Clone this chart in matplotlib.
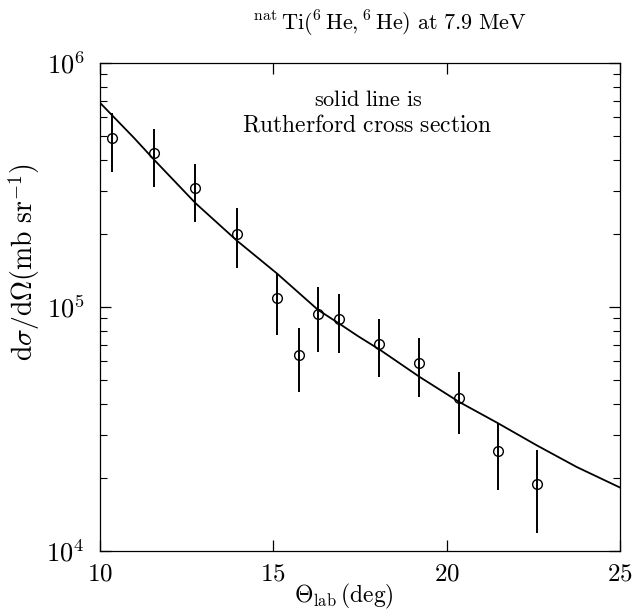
import matplotlib
matplotlib.use("Agg")
import matplotlib.pyplot as plt
from matplotlib.ticker import LogLocator, NullFormatter, FixedLocator

plt.rcParams["mathtext.fontset"] = "cm"
plt.rcParams["font.family"] = "serif"
plt.rcParams["font.serif"] = ["DejaVu Serif"]

# measured points
theta = [10.35, 11.57, 12.75, 13.94, 15.10, 15.75, 16.28, 16.90, 18.06, 19.21, 20.35, 21.48, 22.60]
xsec = [4.94e5, 4.27e5, 3.06e5, 1.99e5, 1.09e5, 6.38e4, 9.4e4, 8.9e4, 7.08e4, 5.88e4, 4.25e4, 2.58e4, 1.88e4]
err_hi = [6.24e5, 5.35e5, 3.85e5, 2.54e5, 1.38e5, 8.19e4, 1.21e5, 1.13e5, 8.9e4, 7.45e4, 5.43e4, 3.36e4, 2.59e4]
err_lo = [3.57e5, 3.11e5, 2.24e5, 1.45e5, 7.7e4, 4.5e4, 6.56e4, 6.5e4, 5.15e4, 4.29e4, 3.03e4, 1.77e4, 1.18e4]

# Rutherford curve
ruth_theta = [10.0, 11.0, 11.57, 12.76, 13.95, 15.11, 16.29, 16.9, 17.44, 18.08, 19.21, 20.35, 21.48, 22.60, 23.75, 25.0]
ruth_xsec = [6.87e5, 4.9e5, 4.0e5, 2.66e5, 1.87e5, 1.37e5, 9.73e4, 8.55e4, 7.6e4, 6.67e4, 5.18e4, 4.09e4, 3.34e4, 2.71e4, 2.21e4, 1.82e4]

fig = plt.figure(figsize=(6.38, 6.12), dpi=100)
ax = fig.add_axes([100 / 638, 1 - 551 / 612, 520 / 638, 488 / 612])

ax.plot(ruth_theta, ruth_xsec, color="black", lw=1.3)
yerr = [[v - lo for v, lo in zip(xsec, err_lo)], [hi - v for v, hi in zip(xsec, err_hi)]]
ax.errorbar(theta, xsec, yerr=yerr, fmt="o", mfc="none", mec="black", ms=7, mew=1.0,
            ecolor="black", elinewidth=1.4, capsize=0)

ax.set_yscale("log")
ax.set_xlim(10, 25)
ax.set_ylim(1e4, 1e6)

ax.xaxis.set_major_locator(FixedLocator([10, 15, 20, 25]))
ax.set_xticklabels([r"$\mathrm{10}$", r"$\mathrm{15}$", r"$\mathrm{20}$", r"$\mathrm{25}$"])
ax.yaxis.set_major_locator(FixedLocator([1e4, 1e5, 1e6]))
ax.set_yticklabels([r"$10^4$", r"$10^5$", r"$10^6$"])
ax.yaxis.set_minor_locator(LogLocator(base=10, subs=range(2, 10)))
ax.yaxis.set_minor_formatter(NullFormatter())

ax.tick_params(axis="both", which="both", direction="in", top=True, right=True)
ax.tick_params(axis="both", which="major", length=8, width=0.9)
ax.tick_params(axis="both", which="minor", length=5, width=0.8)
ax.tick_params(axis="x", pad=8, labelsize=18)
ax.tick_params(axis="y", pad=11, labelsize=19)

for s in ax.spines.values():
    s.set_linewidth(0.9)

ax.set_xlabel(r"$\Theta_{\mathrm{lab}}\,\mathrm{(deg)}$", fontsize=17)
ax.xaxis.set_label_coords(0.47, -0.064)
ax.set_ylabel(r"$\mathrm{d}\sigma/\mathrm{d}\Omega(\mathrm{mb\ sr}^{-1})$", fontsize=20)
ax.yaxis.set_label_coords(-0.112, 0.592)

ax.text(0.515, 0.925, r"$\mathrm{solid\ line\ is}$", transform=ax.transAxes,
        ha="center", va="center", fontsize=16)
ax.text(0.513, 0.872, r"$\mathrm{Rutherford\ cross\ section}$", transform=ax.transAxes,
        ha="center", va="center", fontsize=17)

fig.text(390 / 638, 1 - 24 / 612, r"$^{\mathrm{nat}}\,\mathrm{Ti}(^6\,\mathrm{He},^6\,\mathrm{He})\ \mathrm{at}\ 7.9\ \mathrm{MeV}$",
         ha="center", va="center", fontsize=16)

fig.savefig("out.png", dpi=100)
